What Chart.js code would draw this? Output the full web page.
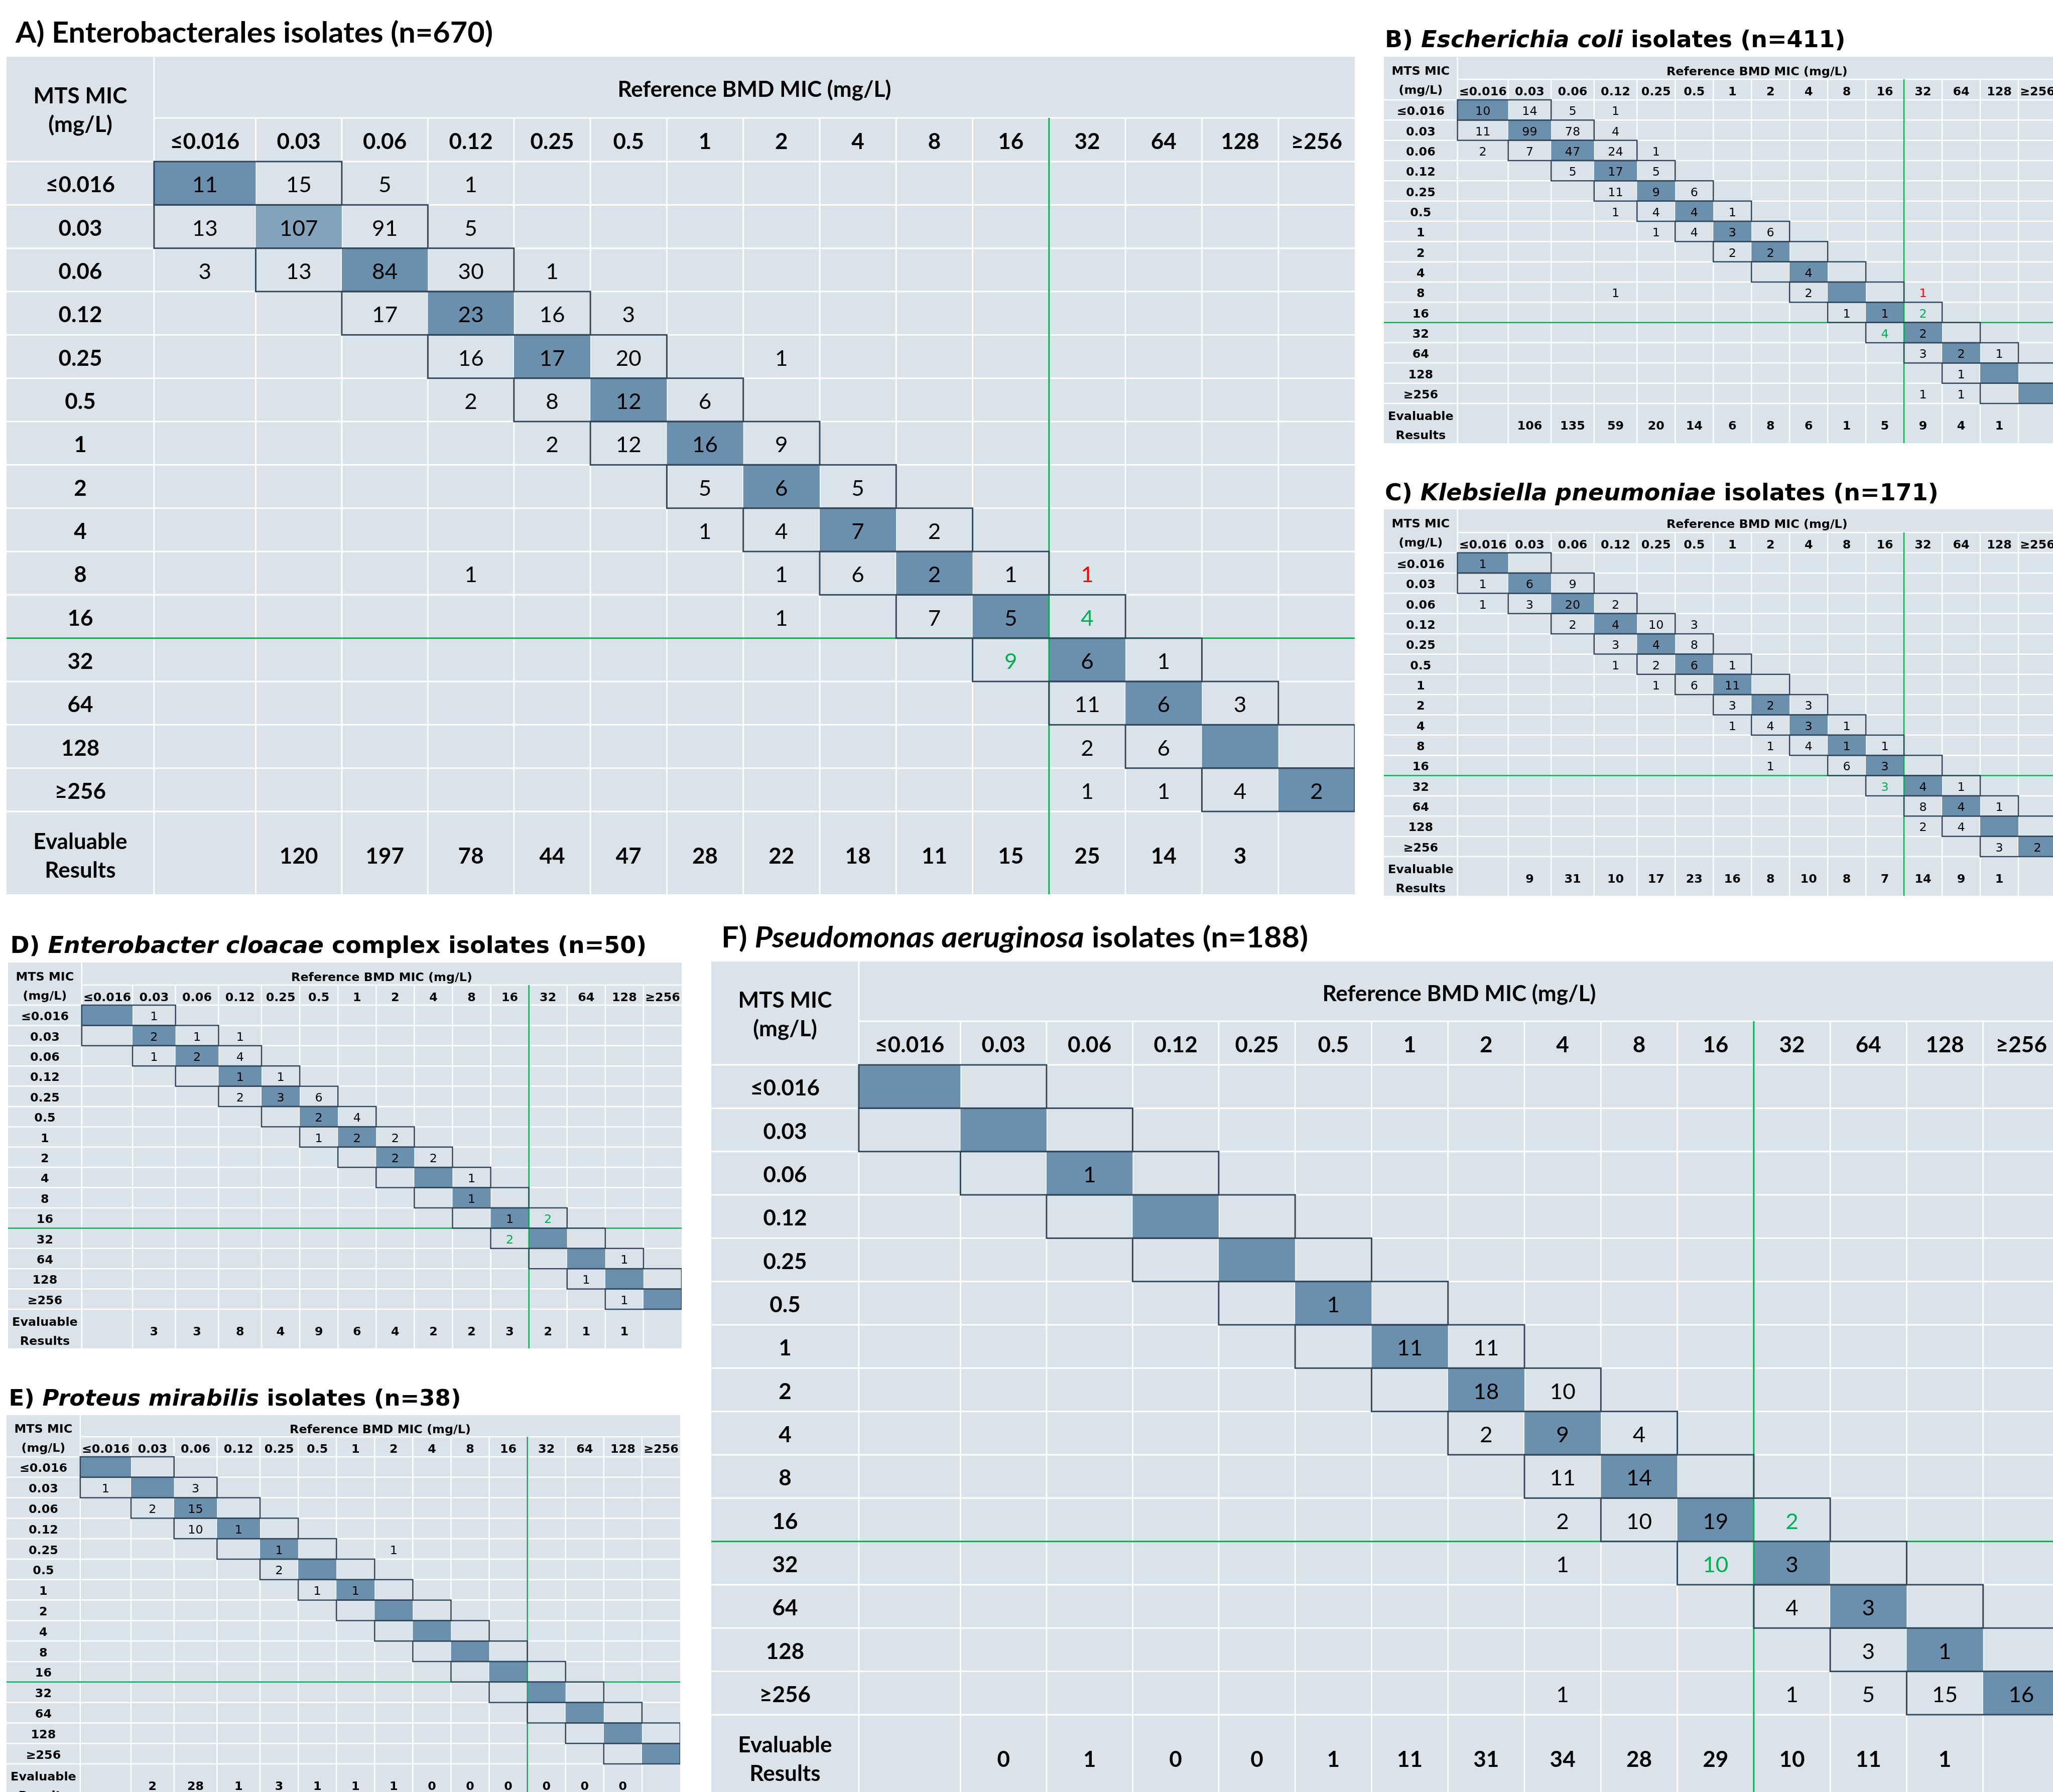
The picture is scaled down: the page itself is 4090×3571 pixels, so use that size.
<!DOCTYPE html>
<html>
<head>
<meta charset="utf-8">
<script src="https://cdn.jsdelivr.net/npm/chart.js@4.4.1/dist/chart.umd.min.js"></script>
<style>
  html, body { margin: 0; padding: 0; background: #ffffff; }
  body { position: relative; width: 4090px; height: 3571px; overflow: hidden; }
  canvas { position: absolute; }
</style>
</head>
<body>
<script>
// ---- MIC dilution steps (shared by both axes) ----
const micLabels = ['≤0.016', '0.03', '0.06', '0.12', '0.25', '0.5', '1', '2', '4', '8', '16', '32', '64', '128', '≥256'];
const rowHeader = ['MTS MIC', '(mg/L)'];
const colHeader = 'Reference BMD MIC (mg/L)';
const evalHeader = ['Evaluable', 'Results'];
const _ = null;

// ---- A) Enterobacterales (rows: MTS MIC, columns: reference BMD MIC) ----
const titleA = [['A) Enterobacterales isolates (n=670)', false]];
const countsA = [
  [11, 15, 5, 1, _, _, _, _, _, _, _, _, _, _, _],
  [13, 107, 91, 5, _, _, _, _, _, _, _, _, _, _, _],
  [3, 13, 84, 30, 1, _, _, _, _, _, _, _, _, _, _],
  [_, _, 17, 23, 16, 3, _, _, _, _, _, _, _, _, _],
  [_, _, _, 16, 17, 20, _, 1, _, _, _, _, _, _, _],
  [_, _, _, 2, 8, 12, 6, _, _, _, _, _, _, _, _],
  [_, _, _, _, 2, 12, 16, 9, _, _, _, _, _, _, _],
  [_, _, _, _, _, _, 5, 6, 5, _, _, _, _, _, _],
  [_, _, _, _, _, _, 1, 4, 7, 2, _, _, _, _, _],
  [_, _, _, 1, _, _, _, 1, 6, 2, 1, 1, _, _, _],
  [_, _, _, _, _, _, _, 1, _, 7, 5, 4, _, _, _],
  [_, _, _, _, _, _, _, _, _, _, 9, 6, 1, _, _],
  [_, _, _, _, _, _, _, _, _, _, _, 11, 6, 3, _],
  [_, _, _, _, _, _, _, _, _, _, _, 2, 6, _, _],
  [_, _, _, _, _, _, _, _, _, _, _, 1, 1, 4, 2]
];
const evaluableA = [_, 120, 197, 78, 44, 47, 28, 22, 18, 11, 15, 25, 14, 3, _];
const errorsA = [[9, 11, 'outside'], [10, 11, 'within'], [11, 10, 'within']];

// ---- B) Escherichia coli ----
const titleB = [['B) ', false], ['Escherichia coli', true], [' isolates (n=411)', false]];
const countsB = [
  [10, 14, 5, 1, _, _, _, _, _, _, _, _, _, _, _],
  [11, 99, 78, 4, _, _, _, _, _, _, _, _, _, _, _],
  [2, 7, 47, 24, 1, _, _, _, _, _, _, _, _, _, _],
  [_, _, 5, 17, 5, _, _, _, _, _, _, _, _, _, _],
  [_, _, _, 11, 9, 6, _, _, _, _, _, _, _, _, _],
  [_, _, _, 1, 4, 4, 1, _, _, _, _, _, _, _, _],
  [_, _, _, _, 1, 4, 3, 6, _, _, _, _, _, _, _],
  [_, _, _, _, _, _, 2, 2, _, _, _, _, _, _, _],
  [_, _, _, _, _, _, _, _, 4, _, _, _, _, _, _],
  [_, _, _, 1, _, _, _, _, 2, _, _, 1, _, _, _],
  [_, _, _, _, _, _, _, _, _, 1, 1, 2, _, _, _],
  [_, _, _, _, _, _, _, _, _, _, 4, 2, _, _, _],
  [_, _, _, _, _, _, _, _, _, _, _, 3, 2, 1, _],
  [_, _, _, _, _, _, _, _, _, _, _, _, 1, _, _],
  [_, _, _, _, _, _, _, _, _, _, _, 1, 1, _, _]
];
const evaluableB = [_, 106, 135, 59, 20, 14, 6, 8, 6, 1, 5, 9, 4, 1, _];
const errorsB = [[9, 11, 'outside'], [10, 11, 'within'], [11, 10, 'within']];

// ---- C) Klebsiella pneumoniae ----
const titleC = [['C) ', false], ['Klebsiella pneumoniae', true], [' isolates (n=171)', false]];
const countsC = [
  [1, _, _, _, _, _, _, _, _, _, _, _, _, _, _],
  [1, 6, 9, _, _, _, _, _, _, _, _, _, _, _, _],
  [1, 3, 20, 2, _, _, _, _, _, _, _, _, _, _, _],
  [_, _, 2, 4, 10, 3, _, _, _, _, _, _, _, _, _],
  [_, _, _, 3, 4, 8, _, _, _, _, _, _, _, _, _],
  [_, _, _, 1, 2, 6, 1, _, _, _, _, _, _, _, _],
  [_, _, _, _, 1, 6, 11, _, _, _, _, _, _, _, _],
  [_, _, _, _, _, _, 3, 2, 3, _, _, _, _, _, _],
  [_, _, _, _, _, _, 1, 4, 3, 1, _, _, _, _, _],
  [_, _, _, _, _, _, _, 1, 4, 1, 1, _, _, _, _],
  [_, _, _, _, _, _, _, 1, _, 6, 3, _, _, _, _],
  [_, _, _, _, _, _, _, _, _, _, 3, 4, 1, _, _],
  [_, _, _, _, _, _, _, _, _, _, _, 8, 4, 1, _],
  [_, _, _, _, _, _, _, _, _, _, _, 2, 4, _, _],
  [_, _, _, _, _, _, _, _, _, _, _, _, _, 3, 2]
];
const evaluableC = [_, 9, 31, 10, 17, 23, 16, 8, 10, 8, 7, 14, 9, 1, _];
const errorsC = [[11, 10, 'within']];

// ---- D) Enterobacter cloacae complex ----
const titleD = [['D) ', false], ['Enterobacter cloacae', true], [' complex isolates (n=50)', false]];
const countsD = [
  [_, 1, _, _, _, _, _, _, _, _, _, _, _, _, _],
  [_, 2, 1, 1, _, _, _, _, _, _, _, _, _, _, _],
  [_, 1, 2, 4, _, _, _, _, _, _, _, _, _, _, _],
  [_, _, _, 1, 1, _, _, _, _, _, _, _, _, _, _],
  [_, _, _, 2, 3, 6, _, _, _, _, _, _, _, _, _],
  [_, _, _, _, _, 2, 4, _, _, _, _, _, _, _, _],
  [_, _, _, _, _, 1, 2, 2, _, _, _, _, _, _, _],
  [_, _, _, _, _, _, _, 2, 2, _, _, _, _, _, _],
  [_, _, _, _, _, _, _, _, _, 1, _, _, _, _, _],
  [_, _, _, _, _, _, _, _, _, 1, _, _, _, _, _],
  [_, _, _, _, _, _, _, _, _, _, 1, 2, _, _, _],
  [_, _, _, _, _, _, _, _, _, _, 2, _, _, _, _],
  [_, _, _, _, _, _, _, _, _, _, _, _, _, 1, _],
  [_, _, _, _, _, _, _, _, _, _, _, _, 1, _, _],
  [_, _, _, _, _, _, _, _, _, _, _, _, _, 1, _]
];
const evaluableD = [_, 3, 3, 8, 4, 9, 6, 4, 2, 2, 3, 2, 1, 1, _];
const errorsD = [[10, 11, 'within'], [11, 10, 'within']];

// ---- E) Proteus mirabilis ----
const titleE = [['E) ', false], ['Proteus mirabilis', true], [' isolates (n=38)', false]];
const countsE = [
  [_, _, _, _, _, _, _, _, _, _, _, _, _, _, _],
  [1, _, 3, _, _, _, _, _, _, _, _, _, _, _, _],
  [_, 2, 15, _, _, _, _, _, _, _, _, _, _, _, _],
  [_, _, 10, 1, _, _, _, _, _, _, _, _, _, _, _],
  [_, _, _, _, 1, _, _, 1, _, _, _, _, _, _, _],
  [_, _, _, _, 2, _, _, _, _, _, _, _, _, _, _],
  [_, _, _, _, _, 1, 1, _, _, _, _, _, _, _, _],
  [_, _, _, _, _, _, _, _, _, _, _, _, _, _, _],
  [_, _, _, _, _, _, _, _, _, _, _, _, _, _, _],
  [_, _, _, _, _, _, _, _, _, _, _, _, _, _, _],
  [_, _, _, _, _, _, _, _, _, _, _, _, _, _, _],
  [_, _, _, _, _, _, _, _, _, _, _, _, _, _, _],
  [_, _, _, _, _, _, _, _, _, _, _, _, _, _, _],
  [_, _, _, _, _, _, _, _, _, _, _, _, _, _, _],
  [_, _, _, _, _, _, _, _, _, _, _, _, _, _, _]
];
const evaluableE = [_, 2, 28, 1, 3, 1, 1, 1, 0, 0, 0, 0, 0, 0, _];
const errorsE = [];

// ---- F) Pseudomonas aeruginosa ----
const titleF = [['F) ', false], ['Pseudomonas aeruginosa', true], [' isolates (n=188)', false]];
const countsF = [
  [_, _, _, _, _, _, _, _, _, _, _, _, _, _, _],
  [_, _, _, _, _, _, _, _, _, _, _, _, _, _, _],
  [_, _, 1, _, _, _, _, _, _, _, _, _, _, _, _],
  [_, _, _, _, _, _, _, _, _, _, _, _, _, _, _],
  [_, _, _, _, _, _, _, _, _, _, _, _, _, _, _],
  [_, _, _, _, _, 1, _, _, _, _, _, _, _, _, _],
  [_, _, _, _, _, _, 11, 11, _, _, _, _, _, _, _],
  [_, _, _, _, _, _, _, 18, 10, _, _, _, _, _, _],
  [_, _, _, _, _, _, _, 2, 9, 4, _, _, _, _, _],
  [_, _, _, _, _, _, _, _, 11, 14, _, _, _, _, _],
  [_, _, _, _, _, _, _, _, 2, 10, 19, 2, _, _, _],
  [_, _, _, _, _, _, _, _, 1, _, 10, 3, _, _, _],
  [_, _, _, _, _, _, _, _, _, _, _, 4, 3, _, _],
  [_, _, _, _, _, _, _, _, _, _, _, _, 3, 1, _],
  [_, _, _, _, _, _, _, _, 1, _, _, 1, 5, 15, 16]
];
const evaluableF = [_, 0, 1, 0, 0, 1, 11, 31, 34, 28, 29, 10, 11, 1, _];
const errorsF = [[10, 11, 'within'], [11, 10, 'within']];

// ---- table geometry and styling ----
// column widths in multiples of a standard column; the first columns are wider
const colUnits = [1.33, 1.126, 1.126, 1.126, 1, 1, 1, 1, 1, 1, 1, 1, 1, 1, 1];
const colEdges = colUnits.reduce((a, w) => { a.push(a[a.length - 1] + w); return a; }, [0]);
const headerUnits = 1.93;
const breakpointIndex = 11;   // boundary between 16 and 32 mg/L

const COLORS = {
  cell: '#dae3ea',
  agree: '#6a90ae',
  agreeSoft: '#82a3bc',
  band: '#33475b',
  grid: '#ffffff',
  breakpoint: '#00b050',
  text: '#000000',
  outside: '#ff0000',
  within: '#00b050'
};

const STYLES = {
  narrow: { family: 'Lato', body: 43, title: 58, grid: 3, band: 3, green: 3,
            mtsGap: 57, mtsOff: -1, refOff: 1, labOff: 0, evalGap: 57, evalOff: 3, refWidth: 545 },
  wide:   { family: '"DejaVu Sans"', body: 24, title: 50, grid: 2.5, band: 2.5, green: 2.5,
            mtsGap: 38, mtsOff: 2, refOff: 4, labOff: 1.5, evalGap: 38, evalOff: 2.5, refWidth: 361 }
};

const probe = document.createElement('canvas').getContext('2d');
function measure(font, s) { probe.font = font; return probe.measureText(s).width; }

// narrow style keeps its size and is compressed horizontally; wide style is sized to width
STYLES.narrow.k = STYLES.narrow.refWidth / measure(`700 ${STYLES.narrow.body}px ${STYLES.narrow.family}`, colHeader);
STYLES.wide.body = STYLES.wide.body * STYLES.wide.refWidth / measure(`700 ${STYLES.wide.body}px ${STYLES.wide.family}`, colHeader);
STYLES.wide.k = 1;

const panels = [
  { id: 'A', style: 'narrow', title: titleA, counts: countsA, evaluable: evaluableA, errors: errorsA, soft: [[1, 1]],
    left: 13, top: 113, unit: 152.3, titleH: 122, labelH: 87, rowH: 86.35, evalH: 165,
    titleX: 31, titleBase: 85, titleW: 951 },
  { id: 'B', style: 'wide', title: titleB, counts: countsB, evaluable: evaluableB, errors: errorsB, soft: [],
    left: 2757, top: 113, unit: 76.0, titleH: 45, labelH: 41, rowH: 40.35, evalH: 79,
    titleX: 2759, titleBase: 94, titleW: 918 },
  { id: 'C', style: 'wide', title: titleC, counts: countsC, evaluable: evaluableC, errors: errorsC, soft: [],
    left: 2757, top: 1015, unit: 76.0, titleH: 46, labelH: 40.6, rowH: 40.36, evalH: 78,
    titleX: 2759, titleBase: 997, titleW: 1103 },
  { id: 'D', style: 'wide', title: titleD, counts: countsD, evaluable: evaluableD, errors: errorsD, soft: [],
    left: 15.6, top: 1918, unit: 76.1, titleH: 45, labelH: 40, rowH: 40.4, evalH: 78,
    titleX: 20, titleBase: 1899, titleW: 1268 },
  { id: 'E', style: 'wide', title: titleE, counts: countsE, evaluable: evaluableE, errors: errorsE, soft: [],
    left: 13.4, top: 2820, unit: 76.1, titleH: 43, labelH: 40, rowH: 40.8, evalH: 78,
    titleX: 18, titleBase: 2801, titleW: 901 },
  { id: 'F', style: 'narrow', title: titleF, counts: countsF, evaluable: evaluableF, errors: errorsF, soft: [],
    left: 1417, top: 1916, unit: 152.3, titleH: 119, labelH: 87, rowH: 86.3, evalH: 165,
    titleX: 1437, titleBase: 1888, titleW: 1169 }
];

function drawText(ctx, s, cx, cy, weight, size, family, k, color) {
  ctx.save();
  ctx.font = `${weight} ${size}px ${family}`;
  ctx.fillStyle = color || COLORS.text;
  ctx.textAlign = 'center';
  ctx.textBaseline = 'alphabetic';
  ctx.translate(cx, cy + size * 0.42);
  ctx.scale(k, 1);
  ctx.fillText(s, 0, 0);
  ctx.restore();
}

function titleFont(st, size, italic) {
  return `${italic ? 'italic ' : ''}700 ${size}px ${st.family}`;
}

function makeTablePlugin(p, st, pad) {
  const labelTop = -p.labelH / p.rowH;
  // title sizing
  let tSize = st.title, tK = 1;
  const w0 = p.title.reduce((s, seg) => s + measure(titleFont(st, tSize, seg[1]), seg[0]), 0);
  if (p.style === 'narrow') tK = p.titleW / w0; else tSize = tSize * p.titleW / w0;

  return {
    id: 'micTable' + p.id,
    beforeDatasetsDraw(chart) {
      const { ctx } = chart;
      const xs = chart.scales.x, ys = chart.scales.y;
      const X = v => xs.getPixelForValue(v), Y = v => ys.getPixelForValue(v);
      const x0 = X(xs.min), x1 = X(xs.max), y0 = Y(ys.min), y1 = Y(ys.max);
      const yLab = Y(labelTop), yData = Y(0), xData = X(0);

      ctx.save();
      // title
      let tx = p.titleX - p.left;
      const tb = p.titleBase - (p.top - pad);
      ctx.fillStyle = COLORS.text;
      ctx.textBaseline = 'alphabetic';
      ctx.textAlign = 'left';
      p.title.forEach(([s, it]) => {
        ctx.font = titleFont(st, tSize, it);
        const w = ctx.measureText(s).width;
        ctx.save(); ctx.translate(tx, tb); ctx.scale(tK, 1); ctx.fillText(s, 0, 0); ctx.restore();
        tx += w * tK;
      });

      // table background
      ctx.fillStyle = COLORS.cell;
      ctx.fillRect(x0, y0, x1 - x0, y1 - y0);

      // white cell separators
      ctx.strokeStyle = COLORS.grid;
      ctx.lineWidth = st.grid;
      ctx.beginPath();
      ctx.moveTo(xData, y0); ctx.lineTo(xData, y1);
      ctx.moveTo(xData, yLab); ctx.lineTo(x1, yLab);
      for (let c = 1; c < 15; c++) {
        ctx.moveTo(X(colEdges[c]), yLab); ctx.lineTo(X(colEdges[c]), y1);
      }
      for (let r = 0; r <= 15; r++) {
        ctx.moveTo(x0, Y(r)); ctx.lineTo(x1, Y(r));
      }
      ctx.stroke();
      ctx.restore();

      const hx = (x0 + xData) / 2;
      const fam = st.family, sz = st.body, k = st.k;
      // header column title
      const hy = (y0 + yData) / 2 + st.mtsOff;
      drawText(ctx, rowHeader[0], hx, hy - st.mtsGap / 2, 700, sz, fam, k);
      drawText(ctx, rowHeader[1], hx, hy + st.mtsGap / 2, 700, sz, fam, k);
      // reference axis title
      drawText(ctx, colHeader, (xData + x1) / 2, (y0 + yLab) / 2 + st.refOff, 700, sz, fam, k);
      // column labels
      micLabels.forEach((lab, c) => {
        const cx = (X(colEdges[c]) + X(colEdges[c + 1])) / 2;
        drawText(ctx, lab, cx, (yLab + yData) / 2 + st.labOff, 700, sz, fam, k);
      });
      // row labels
      micLabels.forEach((lab, r) => {
        drawText(ctx, lab, hx, (Y(r) + Y(r + 1)) / 2, 700, sz, fam, k);
      });
      // evaluable results row
      const ey = (Y(15) + y1) / 2;
      drawText(ctx, evalHeader[0], hx, ey - st.evalGap / 2 + st.evalOff, 700, sz, fam, k);
      drawText(ctx, evalHeader[1], hx, ey + st.evalGap / 2 + st.evalOff, 700, sz, fam, k);
      p.evaluable.forEach((v, c) => {
        if (v === null) return;
        const cx = (X(colEdges[c]) + X(colEdges[c + 1])) / 2;
        drawText(ctx, String(v), cx, ey + st.evalOff, 700, sz, fam, k);
      });
    },
    afterDatasetsDraw(chart) {
      const { ctx } = chart;
      const xs = chart.scales.x, ys = chart.scales.y;
      const X = v => xs.getPixelForValue(v), Y = v => ys.getPixelForValue(v);
      const x0 = X(xs.min), x1 = X(xs.max), y1 = Y(ys.max);
      const yLab = Y(labelTop);

      ctx.save();
      // susceptibility breakpoint lines
      ctx.strokeStyle = COLORS.breakpoint;
      ctx.lineWidth = st.green;
      ctx.beginPath();
      const bx = X(colEdges[breakpointIndex]);
      ctx.moveTo(bx, yLab); ctx.lineTo(bx, y1);
      ctx.moveTo(x0, Y(breakpointIndex)); ctx.lineTo(x1, Y(breakpointIndex));
      ctx.stroke();

      // essential-agreement outlines, from the band bars
      ctx.strokeStyle = COLORS.band;
      ctx.lineWidth = st.band;
      const meta = chart.getDatasetMeta(0);
      meta.data.forEach(el => {
        const { x, base, y, height } = el.getProps(['x', 'base', 'y', 'height'], true);
        ctx.strokeRect(Math.min(x, base), y - height / 2, Math.abs(x - base), height);
      });
      ctx.restore();

      // cell counts
      const fam = st.family, sz = st.body, k = st.k;
      p.counts.forEach((row, r) => row.forEach((v, c) => {
        if (v === null) return;
        const err = p.errors.find(e => e[0] === r && e[1] === c);
        const cx = (X(colEdges[c]) + X(colEdges[c + 1])) / 2;
        const cy = (Y(r) + Y(r + 1)) / 2;
        drawText(ctx, String(v), cx, cy, 400, sz, fam, k, err ? COLORS[err[2]] : COLORS.text);
      }));
    }
  };
}

function buildPanel(p) {
  const st = STYLES[p.style];
  const pad = 113;
  const totalUnits = headerUnits + colEdges[15];
  const W = Math.round(p.unit * totalUnits);
  const tableH = p.titleH + p.labelH + 15 * p.rowH + p.evalH;
  const H = Math.round(pad + tableH);

  const canvas = document.createElement('canvas');
  canvas.width = W; canvas.height = H;
  canvas.style.left = p.left + 'px';
  canvas.style.top = (p.top - pad) + 'px';
  canvas.style.width = W + 'px';
  canvas.style.height = H + 'px';
  document.body.appendChild(canvas);

  const rows = micLabels.map((_, r) => r);
  // ±1 dilution band around the diagonal, and the diagonal (exact agreement) cells
  const bandData = rows.map(r => ({ y: r + 0.5, x: [colEdges[Math.max(0, r - 1)], colEdges[Math.min(15, r + 2)]] }));
  const agreeData = rows.map(r => ({ y: r + 0.5, x: [colEdges[r], colEdges[r + 1]] }));
  const agreeColors = rows.map(r => p.soft.some(s => s[0] === r && s[1] === r) ? COLORS.agreeSoft : COLORS.agree);

  const noTicks = s => { s.ticks = []; };
  new Chart(canvas, {
    type: 'bar',
    data: {
      datasets: [
        { label: 'essential agreement', data: bandData, backgroundColor: 'rgba(0,0,0,0)', borderWidth: 0,
          grouped: false, barPercentage: 1, categoryPercentage: 1 },
        { label: 'exact agreement', data: agreeData, backgroundColor: agreeColors, borderWidth: 0,
          grouped: false, barPercentage: 1, categoryPercentage: 1, inflateAmount: 0 }
      ]
    },
    options: {
      indexAxis: 'y',
      responsive: false,
      animation: false,
      devicePixelRatio: 1,
      events: [],
      layout: { padding: { top: pad, left: 0, right: 0, bottom: 0 } },
      scales: {
        x: { type: 'linear', display: false, offset: false, min: -headerUnits, max: colEdges[15], afterBuildTicks: noTicks },
        y: { type: 'linear', display: false, offset: false, reverse: true,
             min: -(p.titleH + p.labelH) / p.rowH, max: 15 + p.evalH / p.rowH, afterBuildTicks: noTicks }
      },
      plugins: { legend: { display: false }, tooltip: { enabled: false }, title: { display: false } }
    },
    plugins: [makeTablePlugin(p, st, pad)]
  });
}

panels.forEach(buildPanel);
</script>
</body>
</html>
